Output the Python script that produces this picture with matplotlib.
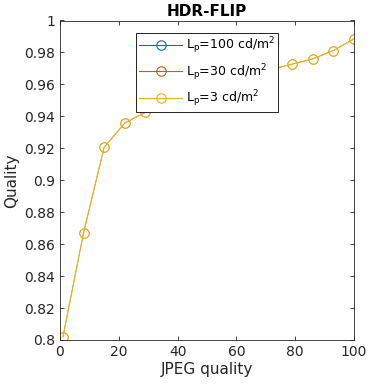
import numpy as np
import matplotlib
matplotlib.use('Agg')
import matplotlib.pyplot as plt

# JPEG quality levels and HDR-FLIP quality values
jpeg_q = [1, 8, 15, 22, 29, 36, 43, 50, 57, 64, 71, 79, 86, 93, 100]
q_3 = [0.802, 0.867, 0.9206, 0.9358, 0.9425, 0.948, 0.953, 0.957, 0.961, 0.965, 0.969,
       0.9727, 0.976, 0.9812, 0.9885]
# the other two luminance levels lie under the 3 cd/m^2 curve
q_100 = list(q_3)
q_30 = list(q_3)

labels = [r'L$_\mathrm{p}$=100 cd/m$^2$', r'L$_\mathrm{p}$=30 cd/m$^2$', r'L$_\mathrm{p}$=3 cd/m$^2$']
colors = ['#0072BD', '#D95319', '#EDB120']

txt = (0.15, 0.15, 0.15)
plt.rcParams['font.family'] = 'DejaVu Sans'
plt.rcParams['mathtext.fontset'] = 'dejavusans'

fig = plt.figure(figsize=(3.69, 3.86), dpi=100)
ax = fig.add_axes([60 / 369, 46 / 386, 294 / 369, 319.5 / 386])

# hidden curves drawn thin so the top (yellow) one covers them
for y, lab, c, lw in zip([q_100, q_30, q_3], labels, colors, [0.2, 0.2, 0.9]):
    ax.plot(jpeg_q, y, color=c, lw=lw, marker='o', markersize=6.8,
            markerfacecolor='none', markeredgewidth=lw, label=lab)

ax.set_xlim(0, 100)
ax.set_ylim(0.8, 1.0)
ax.set_xticks(np.arange(0, 101, 20))
ax.set_yticks(np.arange(0.8, 1.001, 0.02))
ax.set_yticklabels(['0.8', '0.82', '0.84', '0.86', '0.88', '0.9', '0.92', '0.94', '0.96', '0.98', '1'])
ax.tick_params(direction='in', top=True, right=True, length=3, width=0.6,
               labelsize=10, colors=txt, labelcolor=txt)
for s in ax.spines.values():
    s.set_linewidth(0.6)
    s.set_color(txt)

ax.set_xlabel('JPEG quality', fontsize=11, color=txt, labelpad=2)
ax.set_ylabel('Quality', fontsize=11, color=txt, labelpad=4)
ax.set_title('HDR-FLIP', fontsize=11, fontweight='bold', color='black', pad=3)

leg = ax.legend(loc='upper center', bbox_to_anchor=(0.5, 0.962), fontsize=9,
                fancybox=False, framealpha=1, edgecolor='black', handlelength=3.4,
                borderpad=0.25, labelspacing=0.45, handletextpad=0.3, borderaxespad=0)
leg.get_frame().set_linewidth(0.6)
for h in leg.legend_handles:
    h.set_linewidth(0.8)
    h.set_markeredgewidth(0.8)

fig.savefig('out.png', dpi=100)
